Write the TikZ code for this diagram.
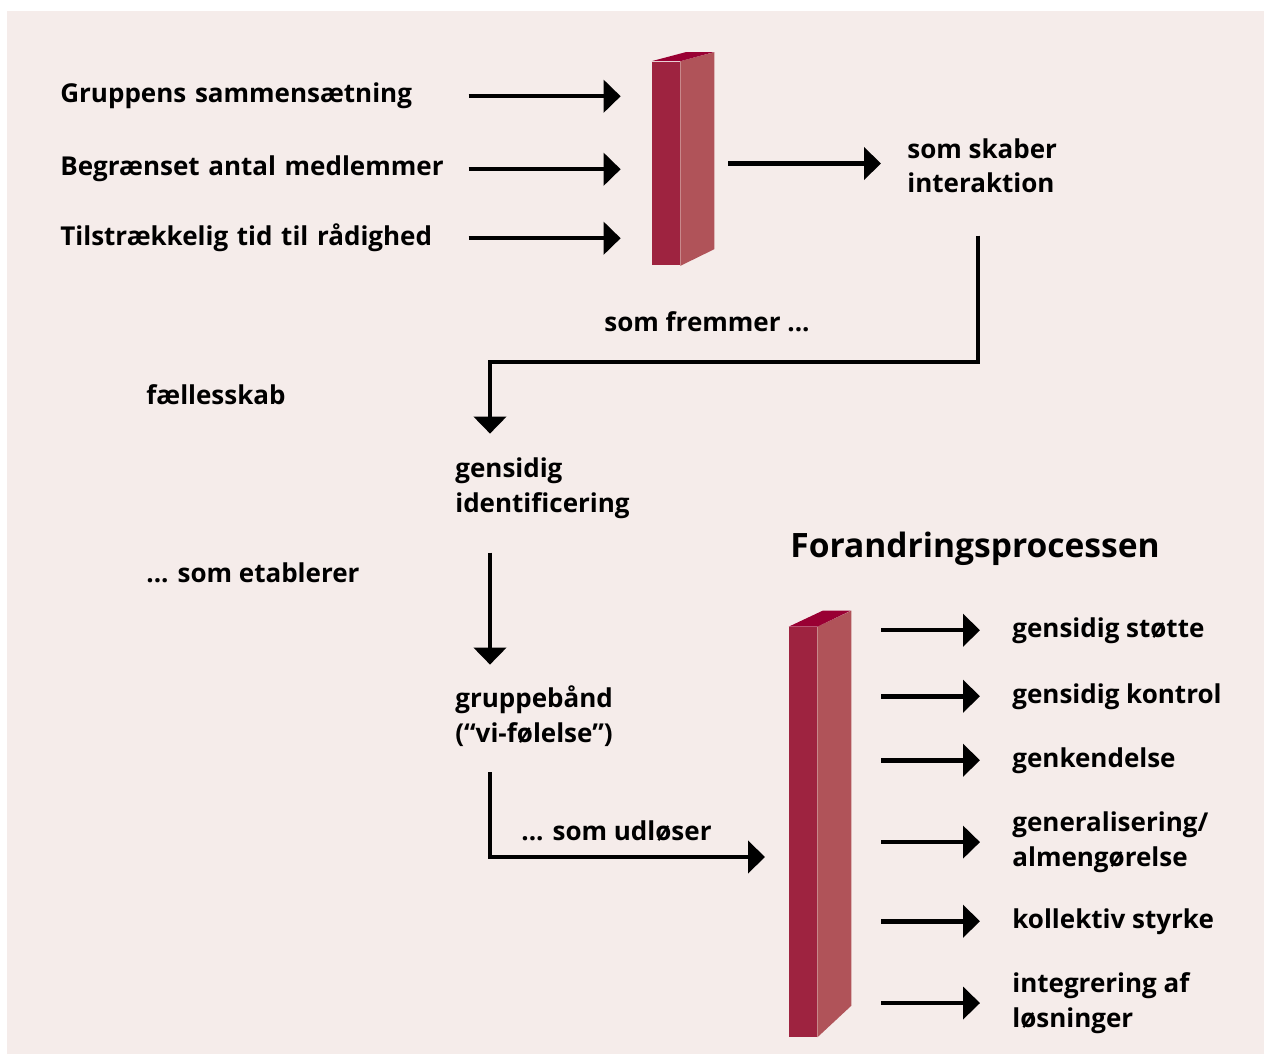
\documentclass[tikz,border=0pt]{standalone}
\usepackage{fontspec}
\setmainfont{Open Sans}
\usetikzlibrary{arrows.meta, positioning, calc}
\definecolor{panelBg}{HTML}{F5ECEA}
\definecolor{barFront}{HTML}{9E2340}
\definecolor{barSide}{HTML}{B05359}
\definecolor{barTop}{HTML}{990033}

\begin{document}
\begin{tikzpicture}[
  x=0.02cm, y=-0.02cm,
  font=\fontsize{14.8}{19.5}\selectfont\bfseries,
  lbl/.style={inner sep=0pt, anchor=base west, align=left},
  cause/.style={inner sep=0pt, anchor=base west, text width=8.16cm, align=left},
  barfront/.style={fill=barFront, minimum width=0.56cm, inner sep=0pt},
  a/.style={-{Triangle[length=0.34cm, width=0.64cm]}, line width=0.09cm}
]
% panel
\useasboundingbox (0,0) rectangle (1264,1054);
\fill[panelBg] (7,11) rectangle (1264,1054);

% first bar
\node[barfront, minimum height=4.08cm] (bar1) at (666,163.5) {};
\fill[barSide] (bar1.north east) -- ++(34,-9) -- ++(0,197) -- (bar1.south east) -- cycle;
\fill[barTop] (bar1.north west) -- ++(34,-9) -- ++(28,0) -- (bar1.north east) -- cycle;

% second bar
\node[barfront, minimum height=8.2cm] (bar2) at (803,832) {};
\fill[barSide] (bar2.north east) -- ++(34,-16) -- ++(0,395) -- (bar2.south east) -- cycle;
\fill[barTop] (bar2.north west) -- ++(34,-16) -- ++(28,0) -- (bar2.north east) -- cycle;

% causes
\node[cause] (sammen) at (60,103) {Gruppens sammensætning};
\node[cause] (antal) at (60,176) {Begrænset antal medlemmer};
\node[cause] (tid) at (60,246) {Tilstrækkelig tid til rådighed};
\node[lbl] (skaber) at (907,193) {som skaber\\interaktion};

% chain (base anchor = last line)
\node[lbl] (fremmer) at (604,331) {som fremmer ...};
\node[lbl] (faelles) at (146,404) {fællesskab};
\node[lbl] (gensidig) at (455,512) {gensidig\\identificering};
\node[lbl] (etablerer) at (146,582) {... som etablerer};
\node[lbl] (gruppe) at (455,742) {gruppebånd\\(“vi-følelse”)};
\node[lbl] (udloeser) at (521,840) {... som udløser};
\coordinate (turn) at (490,362);
\coordinate (udl) at (765,857);

% change processes
\node[lbl, font=\fontsize{19.1}{24}\selectfont\bfseries] (titel) at (790,557) {Forandringsprocessen};
\node[lbl] (stoette) at (1012,637) {gensidig støtte};
\node[lbl] (kontrol) at (1012,703) {gensidig kontrol};
\node[lbl] (genk) at (1012,767) {genkendelse};
\node[lbl] (general) at (1012,866) {generalisering/\\almengørelse};
\node[lbl] (kollektiv) at (1012,928) {kollektiv styrke};
\node[lbl] (integ) at (1012,1027) {integrering af\\løsninger};

\draw[a, shorten >=0.62cm] (sammen.east) -- (sammen.east -| bar1.west);
\draw[a, shorten >=0.62cm] (antal.east) -- (antal.east -| bar1.west);
\draw[a, shorten >=0.62cm] (tid.east) -- (tid.east -| bar1.west);
\draw[a, shorten <=0.96cm, shorten >=0.52cm] (bar1.east) -- (bar1.east -| skaber.west);
\draw[a, shorten <=0.84cm, shorten >=0.48cm] ([xshift=-0.08cm]skaber.south) |- (turn) -- (turn |- gensidig.north);
\draw[a, shorten <=0.68cm, shorten >=0.42cm] (turn |- gensidig.south) -- (turn |- gruppe.north);
\draw[a, shorten <=0.52cm] (turn |- gruppe.south) |- (udl);
\foreach \r in {stoette, kontrol, genk, general, kollektiv, integ}
  \draw[a, shorten <=1.28cm, shorten >=0.64cm] (\r.west -| bar2.east) -- (\r.west);
\end{tikzpicture}
\end{document}
